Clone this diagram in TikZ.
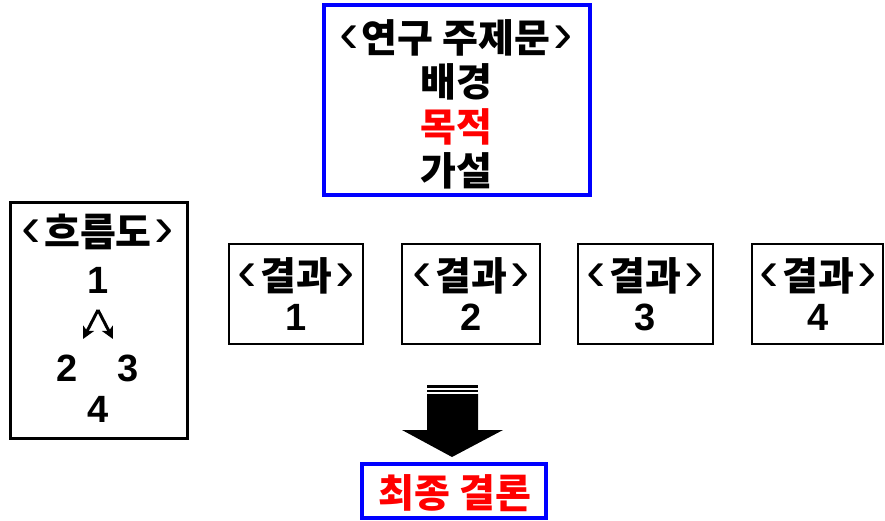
\documentclass[tikz,border=0pt]{standalone}
\usepackage{fontspec}
\usetikzlibrary{arrows.meta}
\setmainfont{Noto Sans CJK KR}
\newfontfamily\dig{Liberation Sans}
\newcommand\lbr{{\dig\mdseries\fontsize{58}{58}\selectfont‹}\hspace{0.08em}}
\newcommand\rbr{\hspace{0.08em}{\dig\mdseries\fontsize{58}{58}\selectfont›}}
\begin{document}
\begin{tikzpicture}[x=1pt,y=-1pt,
  txt/.style={anchor=base,inner sep=0pt,font=\fontsize{39}{44}\selectfont\bfseries},
  num/.style={anchor=base,inner sep=0pt,font=\fontsize{38}{44}\selectfont\dig\bfseries},
  bluebox/.style={draw=blue,line width=4pt},
  flowbox/.style={draw=black,line width=3pt},
  resbox/.style={draw=black,line width=2pt},
  flowarrow/.style={line width=3pt,-{Stealth[length=12pt,width=12pt,inset=3pt]}}
]
\useasboundingbox (0,0) rectangle (885,521);
\fill[white] (0,0) rectangle (885,521);
% boxes
\draw[bluebox] (324,5) rectangle (590,195);
\draw[flowbox] (10.5,202.5) rectangle (187.5,438.5);
\draw[resbox] (229,244) rectangle (363,344);
\draw[resbox] (402,244) rectangle (540,344);
\draw[resbox] (578,244) rectangle (713,344);
\draw[resbox] (752,244) rectangle (883,344);
\draw[bluebox] (362,464) rectangle (546,518);
% top box text
\node[txt] (t0) at (456,53) {\lbr 연구 주제문\rbr};
\node[txt] (t1) at (456,97) {배경};
\node[txt,text=red] (t2) at (456,142) {목적};
\node[txt] (t3) at (456,186) {가설};
% flow box text
\node[txt] (f0) at (98,247) {\lbr 흐름도\rbr};
\node[num] (f1) at (98,293) {1};
\node[num] (f2) at (67,381) {2};
\node[num] (f3) at (128,381) {3};
\node[num] (f4) at (98,422) {4};
\coordinate (ap) at (98,310);
\coordinate (al) at (83,339);
\coordinate (ar) at (113,339);
\draw[flowarrow] (ap) -- (al);
\draw[flowarrow] (ap) -- (ar);
% results
\foreach \i/\x in {1/296,2/471,3/645,4/818}{
  \node[txt] (r\i) at (\x,290) {\lbr 결과\rbr};
  \node[num] (n\i) at (\x,330) {\i};
}
% big arrow
\fill (427,385) rectangle (478,388);
\fill (427,390) rectangle (478,392);
\fill (427,394) -- (478,394) -- (478,430) -- (503,430) -- (452,457) -- (402,430) -- (427,430) -- cycle;
% final
\node[txt,text=red] (fin) at (455,507) {최종 결론};
\end{tikzpicture}
\end{document}
